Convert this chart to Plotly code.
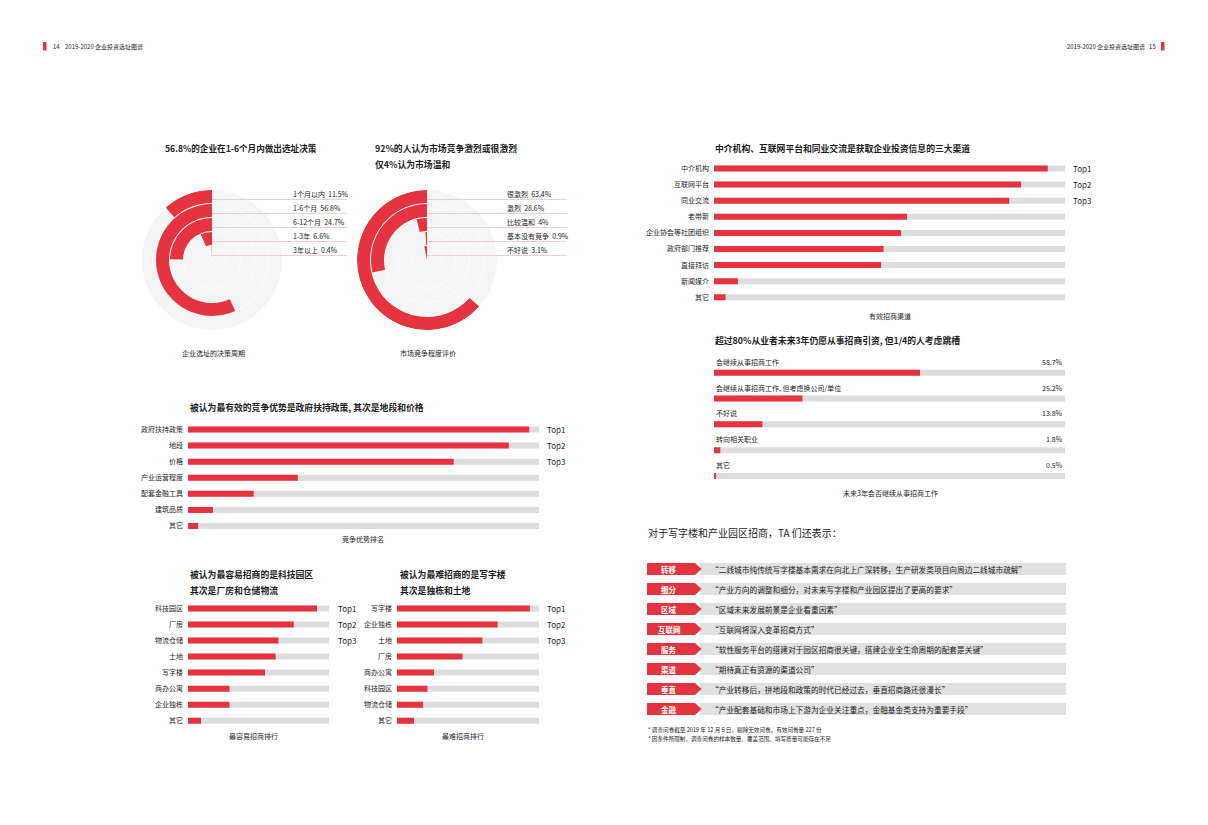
import plotly.graph_objects as go

W, H = 1208, 825
RED = '#e5333f'
TRACK = '#dddddd'
DISK = '#f5f5f5'
TXT = '#1e1e1e'
FONT = 'Noto Sans CJK SC'

# ---------------- data ----------------
cycle_labels = ['1个月以内', '1-6个月', '6-12个月', '1-3年', '3年以上']
cycle_pct = [11.5, 56.8, 24.7, 6.6, 0.4]

compete_labels = ['很激烈', '激烈', '比较温和', '基本没有竞争', '不好说']
compete_pct = [63.4, 28.6, 4, 0.9, 3.1]

channel_labels = ['中介机构', '互联网平台', '同业交流', '老带新', '企业协会等社团组织',
                  '政府部门推荐', '直接拜访', '新闻媒介', '其它']
channel_vals = [95.1, 87.5, 84.1, 55.0, 53.3, 48.3, 47.6, 6.8, 3.3]

advantage_labels = ['政府扶持政策', '地段', '价格', '产业运营程度', '配套金融工具', '建筑品质', '其它']
advantage_vals = [97.2, 91.4, 75.7, 31.3, 18.7, 7.1, 2.9]

easy_labels = ['科技园区', '厂房', '物流仓储', '土地', '写字楼', '商办公寓', '企业独栋', '其它']
easy_vals = [91.5, 75.0, 64.1, 62.2, 54.6, 29.4, 29.4, 9.2]

hard_labels = ['写字楼', '企业独栋', '土地', '厂房', '商办公寓', '科技园区', '物流仓储', '其它']
hard_vals = [93.6, 70.9, 60.1, 46.2, 26.1, 21.4, 18.4, 12.0]

career_labels = ['会继续从事招商工作', '会继续从事招商工作, 但考虑换公司/单位', '不好说', '转向相关职业', '其它']
career_pct = [58.7, 25.2, 13.8, 1.8, 0.5]

top_labels = ['Top1', 'Top2', 'Top3']

quote_tags = ['转移', '细分', '区域', '互联网', '服务', '渠道', '垂直', '金融']
quotes = [
    '“二线城市纯传统写字楼基本需求在向北上广深转移，生产研发类项目向周边二线城市疏解”',
    '“产业方向的调整和细分，对未来写字楼和产业园区提出了更高的要求”',
    '“区域未来发展前景是企业看重因素”',
    '“互联网将深入变革招商方式”',
    '“软性服务平台的搭建对于园区招商很关键，搭建企业全生命周期的配套是关键”',
    '“期待真正有资源的渠道公司”',
    '“产业转移后，拼地段和政策的时代已经过去，垂直招商路还很漫长”',
    '“产业配套基础和市场上下游为企业关注重点，金融基金类支持为重要手段”',
]

footnotes = ['* 调查问卷截至 2019 年 12 月 6 日，剔除无效问卷，有效问卷量 227 份',
             '* 因条件所限制，调查问卷的样本数量、覆盖范围、填写质量可能存在不足']

fig = go.Figure()
shapes = []
annos = []


def text(x, y, s, size=7, bold=False, color=TXT, anchor='left', ref=('x', 'y')):
    annos.append(dict(x=x, y=y, xref=ref[0], yref=ref[1], text=f'<b>{s}</b>' if bold else s,
                      showarrow=False, xanchor=anchor, yanchor='middle',
                      font=dict(family=FONT, size=size, color=color)))


# full-page pixel axes for decoration
fig.add_trace(go.Scatter(x=[0, W], y=[0, H], mode='markers', marker=dict(opacity=0),
                         hoverinfo='skip', showlegend=False))
layout_axes = dict(
    xaxis=dict(domain=[0, 1], range=[0, W], visible=False, fixedrange=True),
    yaxis=dict(domain=[0, 1], range=[H, 0], visible=False, fixedrange=True),
)


def add_hbar(k, x0, x1, y_first, y_last, labels, vals, tick_labels=True, bh=6):
    n = len(vals)
    sp = (y_last - y_first) / (n - 1)
    idx = list(range(n))
    for xs, col in (([100] * n, TRACK), (vals, RED)):
        fig.add_trace(go.Bar(x=xs, y=idx, orientation='h', width=bh / sp, marker_color=col,
                             marker_line_width=0, xaxis=f'x{k}', yaxis=f'y{k}',
                             hoverinfo='skip', showlegend=False))
    layout_axes[f'xaxis{k}'] = dict(domain=[x0 / W, x1 / W], range=[0, 100], visible=False,
                                    anchor=f'y{k}', fixedrange=True)
    layout_axes[f'yaxis{k}'] = dict(domain=[1 - (y_last + sp / 2) / H, 1 - (y_first - sp / 2) / H],
                                    range=[n - 0.5, -0.5], tickvals=idx,
                                    ticktext=labels if tick_labels else [''] * n,
                                    showticklabels=tick_labels, ticks='', ticklabelstandoff=4,
                                    showline=False, showgrid=False, zeroline=False,
                                    tickfont=dict(family=FONT, size=7, color=TXT),
                                    anchor=f'x{k}', fixedrange=True)


def add_tops(k, x):
    for i, t in enumerate(top_labels):
        text(x, i, t, size=8, ref=('x', f'y{k}'))


# ---------------- header ----------------
shapes.append(dict(type='rect', xref='x', yref='y', x0=43, x1=46.5, y0=42, y1=50.5,
                   fillcolor=RED, line_width=0))
shapes.append(dict(type='rect', xref='x', yref='y', x0=1161, x1=1164.5, y0=42, y1=50.5,
                   fillcolor=RED, line_width=0))
text(51, 46, '14', size=6)
text(63, 46, '2019-2020 企业投资选址图谱', size=6)
text(1158, 46, '2019-2020 企业投资选址图谱   15', size=6, anchor='right')

# ---------------- radial charts ----------------
outer = [70, 56, 42, 28, 14]


def add_radial(name, cx, cy, labels, pct, lab_x, line_end, caption):
    fig.add_trace(go.Barpolar(r=[70], base=[0], theta=[180], width=[360],
                              marker_color='#fafafa', marker_line_width=0,
                              subplot=name, hoverinfo='skip', showlegend=False))
    fig.add_trace(go.Barpolar(r=[13] * 5, base=[o - 13 for o in outer], theta=[180] * 5,
                              width=[360] * 5, marker_color=DISK, marker_line_width=0,
                              subplot=name, hoverinfo='skip', showlegend=False))
    fig.add_trace(go.Barpolar(r=[13] * 5, base=[o - 13 for o in outer],
                              theta=[p * 1.8 for p in pct], width=[p * 3.6 for p in pct],
                              marker_color=RED, marker_line_width=0,
                              subplot=name, hoverinfo='skip', showlegend=False))
    layout_axes[name] = dict(
        domain=dict(x=[(cx - 70) / W, (cx + 70) / W], y=[1 - (cy + 70) / H, 1 - (cy - 70) / H]),
        radialaxis=dict(range=[0, 70], visible=False),
        angularaxis=dict(visible=False, direction='counterclockwise', rotation=90),
        bgcolor='rgba(0,0,0,0)')
    for i, (lab, p) in enumerate(zip(labels, pct)):
        ly = 194 + 14 * i
        shapes.append(dict(type='line', xref='x', yref='y', x0=cx, x1=line_end,
                           y0=ly + 5.5, y1=ly + 5.5, line=dict(color='#e8c3c6', width=0.8)))
        text(lab_x, ly, f'{lab}  {p:g}%', size=7)
    text(cx + 1, 353, caption, size=7, anchor='center')


add_radial('polar', 212, 260, cycle_labels, cycle_pct, 291, 347, '企业选址的决策周期')
add_radial('polar2', 427, 260, compete_labels, compete_pct, 505, 567, '市场竞争程度评价')
text(163, 148, '56.8%的企业在1-6个月内做出选址决策', size=8.6, bold=True)
text(373, 148, '92%的人认为市场竞争激烈或很激烈', size=8.8, bold=True)
text(373, 164, '仅4%认为市场温和', size=8.8, bold=True)

# ---------------- bar charts ----------------
# top right: channels
add_hbar(2, 714, 1065, 168.5, 297.3, channel_labels, channel_vals)
add_tops(2, 1071)
text(713, 148, '中介机构、互联网平台和同业交流是获取企业投资信息的三大渠道', size=8.8, bold=True)
text(890, 316, '有效招商渠道', size=7, anchor='center')

# middle left: competitive advantage
add_hbar(3, 188, 539, 429.5, 526, advantage_labels, advantage_vals)
add_tops(3, 545)
text(188, 407, '被认为最有效的竞争优势是政府扶持政策, 其次是地段和价格', size=8.8, bold=True)
text(363, 539, '竞争优势排名', size=7, anchor='center')

# bottom left: easiest
add_hbar(4, 188, 329, 608.5, 720.7, easy_labels, easy_vals)
add_tops(4, 336)
text(188, 574, '被认为最容易招商的是科技园区', size=8.8, bold=True)
text(188, 590, '其次是厂房和仓储物流', size=8.8, bold=True)
text(253, 736, '最容易招商排行', size=7, anchor='center')

# bottom middle: hardest
add_hbar(5, 397, 539, 608.5, 720.7, hard_labels, hard_vals)
add_tops(5, 545)
text(398, 574, '被认为最难招商的是写字楼', size=8.8, bold=True)
text(398, 590, '其次是独栋和土地', size=8.8, bold=True)
text(463, 736, '最难招商排行', size=7, anchor='center')

# right: career intention
add_hbar(6, 714, 1065, 372.7, 476, career_labels, career_pct, tick_labels=False)
for i, (lab, p) in enumerate(zip(career_labels, career_pct)):
    annos.append(dict(x=0, y=i, xref='x6 domain', yref='y6', yshift=11, text=lab,
                      showarrow=False, xanchor='left', yanchor='middle',
                      font=dict(family=FONT, size=7, color=TXT)))
    annos.append(dict(x=1, y=i, xref='x6 domain', yref='y6', yshift=11, text=f'{p}%',
                      showarrow=False, xanchor='right', yanchor='middle',
                      font=dict(family=FONT, size=7, color=TXT)))
text(713, 340, '超过80%从业者未来3年仍愿从事招商引资, 但1/4的人考虑跳槽', size=8.8, bold=True)
text(890, 493, '未来3年会否继续从事招商工作', size=7, anchor='center')

# ---------------- quotes ----------------
text(646, 532, '对于写字楼和产业园区招商，TA 们还表示：', size=10)
for i, (tag, q) in enumerate(zip(quote_tags, quotes)):
    y = 569 + 20 * i
    shapes.append(dict(type='rect', xref='x', yref='y', x0=700, x1=1066, y0=y - 6, y1=y + 6,
                       fillcolor='#e1e1e1', line_width=0))
    shapes.append(dict(type='path', xref='x', yref='y',
                       path=f'M 647 {y - 6} L 695 {y - 6} L 701.5 {y} L 695 {y + 6} L 647 {y + 6} Z',
                       fillcolor=RED, line_width=0))
    text(669, y, tag, size=7.5, bold=True, color='white', anchor='center')
    text(709, y, q, size=7.7)

for i, f in enumerate(footnotes):
    text(646, 730 + 9 * i, f, size=5.6)

fig.update_layout(
    width=W, height=H, margin=dict(l=0, r=0, t=0, b=0),
    paper_bgcolor='white', plot_bgcolor='rgba(0,0,0,0)',
    barmode='overlay', showlegend=False,
    shapes=shapes, annotations=annos,
    font=dict(family=FONT, color=TXT),
    **layout_axes,
)

# page body has a default 8px margin; remove it so the figure fills the window
fig.write_html('out.html', config={'displayModeBar': False},
               post_script="document.body.style.margin='0';")
